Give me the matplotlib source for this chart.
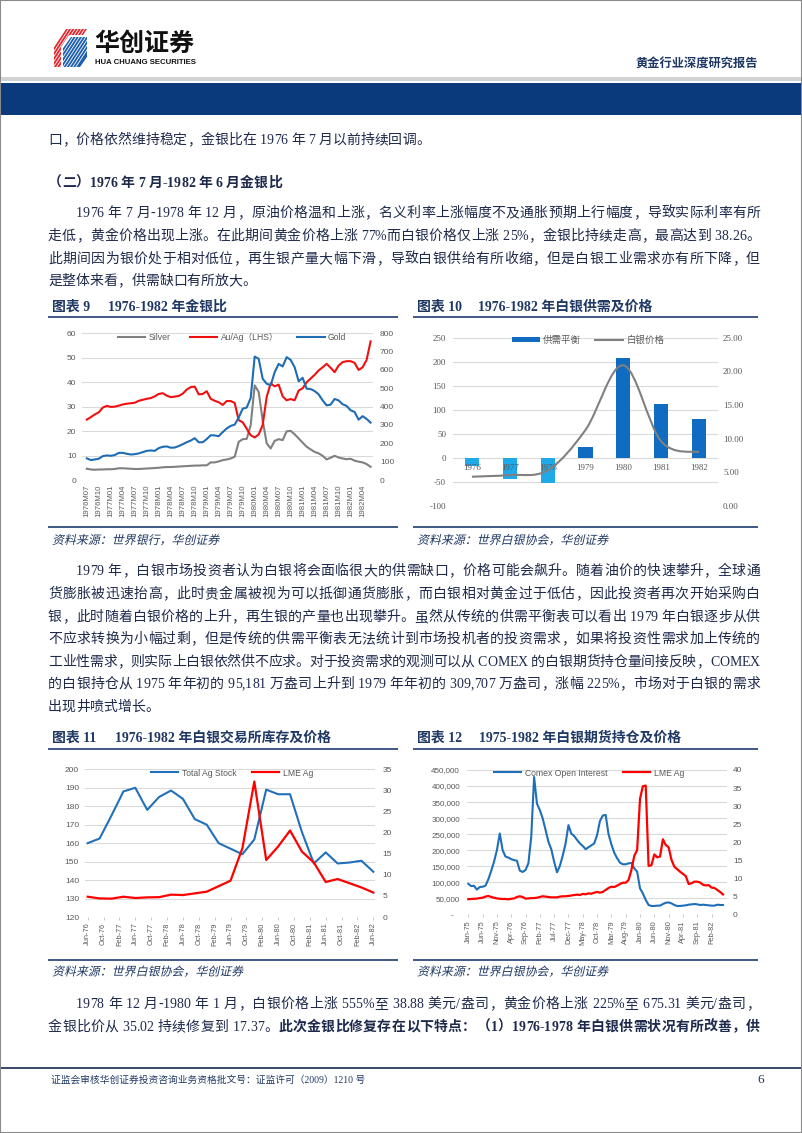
import numpy as np
import matplotlib
matplotlib.use('Agg')
import matplotlib.pyplot as plt
import matplotlib.font_manager as fm
import matplotlib.patheffects as pe
from matplotlib.path import Path
from matplotlib.patches import PathPatch, Rectangle, Polygon, Patch
from matplotlib.lines import Line2D
from matplotlib.textpath import TextPath
from matplotlib.transforms import Affine2D
from matplotlib.ticker import FuncFormatter
from matplotlib.ft2font import FT2Font
try:
    from matplotlib.ft2font import LoadFlags
    NOHINT = LoadFlags.NO_HINTING
except Exception:
    from matplotlib.ft2font import LOAD_NO_HINTING as NOHINT

# ---------------- data ----------------
# Chart 9: monthly 1976M07 - 1982M06
ticks9 = ['1976M07', '1976M10', '1977M01', '1977M04', '1977M07', '1977M10', '1978M01', '1978M04',
          '1978M07', '1978M10', '1979M01', '1979M04', '1979M07', '1979M10', '1980M01', '1980M04',
          '1980M07', '1980M10', '1981M01', '1981M04', '1981M07', '1981M10', '1982M01', '1982M04']
silver9 = [4.6, 4.3, 4.2, 4.3, 4.3, 4.4, 4.4, 4.5, 4.8, 4.8,
           4.7, 4.6, 4.5, 4.5, 4.6, 4.7, 4.8, 4.9, 5.0, 5.2,
           5.3, 5.3, 5.4, 5.5, 5.6, 5.7, 5.8, 5.9, 5.9, 6.0,
           6.0, 7.2, 7.2, 7.6, 8.1, 8.4, 8.8, 9.5, 15.6, 16.7,
           16.8, 22.4, 38.7, 36.0, 24.4, 15.0, 12.9, 16.0, 16.7, 16.3,
           19.9, 20.1, 18.7, 17.0, 15.3, 13.6, 12.5, 11.5, 10.9, 9.9,
           8.4, 9.1, 9.9, 9.2, 8.8, 8.5, 8.7, 7.9, 7.5, 7.2,
           6.5, 5.4]
auag9 = [24.7, 25.7, 26.8, 27.7, 29.6, 30.3, 29.9, 30.0, 30.4, 30.9,
         31.2, 31.4, 31.6, 32.4, 32.8, 33.2, 33.5, 34.2, 35.2, 35.5,
         34.5, 33.9, 34.1, 34.4, 35.3, 37.0, 38.0, 38.2, 35.0, 35.2,
         36.3, 33.2, 32.4, 31.8, 30.7, 32.3, 32.3, 31.5, 24.5, 23.6,
         21.0, 18.3, 17.4, 18.6, 22.5, 34.0, 39.5, 38.3, 39.0, 34.2,
         32.6, 33.1, 32.6, 36.6, 37.5, 40.0, 41.5, 43.0, 44.8, 46.1,
         47.5, 45.9, 44.1, 46.8, 48.2, 48.6, 48.6, 47.9, 45.0, 46.1,
         49.1, 56.7]
gold9 = [118, 109, 112, 116, 130, 134, 132, 136, 148, 148,
         143, 139, 141, 145, 152, 159, 161, 159, 174, 181,
         183, 176, 177, 185, 195, 206, 215, 228, 206, 206,
         223, 244, 243, 239, 261, 281, 295, 302, 340, 389,
         395, 447, 673, 661, 552, 525, 516, 588, 633, 619,
         670, 655, 615, 538, 557, 498, 496, 485, 467, 434,
         407, 411, 442, 434, 413, 404, 380, 371, 329, 348,
         333, 313]

# Chart 10: yearly
years10 = ['1976', '1977', '1978', '1979', '1980', '1981', '1982']
balance10 = [-16, -44, -53, 22, 208, 113, 81]
price10 = [4.35, 4.6, 5.3, 11.3, 20.9, 9.6, 8.0]

# Chart 11: quarterly Jun-76 .. Jun-82
ticks11 = ['Jun-76', 'Oct-76', 'Feb-77', 'Jun-77', 'Oct-77', 'Feb-78', 'Jun-78', 'Oct-78', 'Feb-79',
           'Jun-79', 'Oct-79', 'Feb-80', 'Jun-80', 'Oct-80', 'Feb-81', 'Jun-81', 'Oct-81', 'Feb-82', 'Jun-82']
stock11 = [160, 162.5, 175, 188, 190, 178, 185, 188.5, 184, 173, 170, 160, 157,
           154, 162, 189, 186.5, 186.5, 166, 149, 155, 149, 149.5, 150.5, 144.5]
lme11 = [4.8, 4.4, 4.35, 4.8, 4.5, 4.65, 4.7, 5.3, 5.2, 5.6, 6.0, 7.3, 8.6,
         16.3, 32.1, 13.5, 16.7, 20.5, 15.5, 12.9, 8.3, 9.0, 8.0, 7.0, 5.8]

# Chart 12: monthly Jan-75 .. Jun-82
ticks12 = ['Jan-75', 'Jun-75', 'Nov-75', 'Apr-76', 'Sep-76', 'Feb-77', 'Jul-77', 'Dec-77', 'May-78',
           'Oct-78', 'Mar-79', 'Aug-79', 'Jan-80', 'Jun-80', 'Nov-80', 'Apr-81', 'Sep-81', 'Feb-82']
comex12_k = [95, 88, 89, 77, 85, 86, 89, 109, 135, 164,
             200, 252, 200, 180, 177, 172, 169, 167, 136, 132,
             138, 159, 242, 428, 345, 325, 299, 263, 226, 203,
             164, 131, 151, 183, 221, 278, 252, 244, 232, 221,
             213, 203, 209, 215, 221, 247, 291, 308, 310, 250,
             218, 192, 175, 161, 156, 156, 159, 160, 143, 133,
             81, 65, 45, 29, 26, 26, 27, 27, 32, 36,
             37, 34, 29, 26, 26, 27, 28, 30, 31, 32,
             31, 29, 30, 29, 28, 27, 27, 30, 29, 29]
lme12 = [4.2, 4.25, 4.3, 4.35, 4.5, 4.6, 4.9, 5.1, 4.8, 4.6,
         4.4, 4.3, 4.25, 4.25, 4.15, 4.3, 4.4, 4.8, 5.0, 4.8,
         4.35, 4.4, 4.5, 4.5, 4.6, 4.8, 5.0, 4.9, 4.8, 4.7,
         4.7, 4.7, 4.9, 5.0, 5.0, 5.1, 5.2, 5.35, 5.45, 5.35,
         5.65, 5.55, 5.8, 5.7, 6.0, 6.2, 6.0, 6.2, 6.75, 7.3,
         7.65, 7.55, 7.95, 8.4, 8.75, 8.75, 9.5, 12.3, 16.2, 17.8,
         32.0, 35.5, 35.7, 13.4, 13.6, 16.6, 15.8, 16.0, 20.8, 19.2,
         18.6, 15.1, 13.2, 12.5, 11.8, 11.2, 10.6, 8.4, 8.6, 9.05,
         9.05, 8.8, 8.2, 8.0, 8.1, 7.4, 7.3, 6.75, 6.2, 5.5]

# ---------------- page setup ----------------
W, H = 802, 1133
CJK = 'Noto Sans CJK SC'
SERIF = 'Liberation Serif'
SANS = 'Liberation Sans'
plt.rcParams['font.family'] = [SANS, CJK]
plt.rcParams['axes.unicode_minus'] = False

TXT = '#1e2a4c'
NAVY = '#1F3864'
LBL = '#595959'
GRID = '#D9D9D9'

fig = plt.figure(figsize=(W / 100, H / 100), dpi=100)
fig.patch.set_facecolor('white')


def fx(x):
    return x / W


def fy(y):
    return 1 - y / H


def add_ax(x0, y0, x1, y1):
    return fig.add_axes([fx(x0), fy(y1), (x1 - x0) / W, (y1 - y0) / H])


def add_rect(x0, y0, x1, y1, color, z=1):
    fig.add_artist(Rectangle((fx(x0), fy(y1)), (x1 - x0) / W, (y1 - y0) / H,
                             transform=fig.transFigure, facecolor=color, edgecolor='none', zorder=z))


def add_hline(x0, x1, y, color, lw):
    fig.add_artist(Line2D([fx(x0), fx(x1)], [fy(y), fy(y)], transform=fig.transFigure,
                          color=color, lw=lw, solid_capstyle='butt'))


_fonts = {}


def _ft(is_ascii, bold):
    key = (is_ascii, bold)
    if key not in _fonts:
        fam = SERIF if is_ascii else CJK
        path = fm.findfont(fm.FontProperties(family=fam, weight='bold' if bold else 'normal'))
        _fonts[key] = (FT2Font(path), path)
    return _fonts[key]


CJK_BOLD_REAL = 'bold' in _ft(False, True)[1].lower()


def bold_fx(color):
    if CJK_BOLD_REAL:
        return []
    return [pe.withStroke(linewidth=0.6, foreground=color)]


def adv(ch, bold, size):
    f, _ = _ft(ord(ch) < 128, bold)
    f.set_size(size, 100)
    g = f.load_char(ord(ch), flags=NOHINT)
    return g.linearHoriAdvance / 65536.0


def body_line(segments, x0, yb, x1=None, size=10, color=TXT):
    chars = []
    for s, b in segments:
        for ch in s:
            chars.append((ch, b))
    advs = [adv(c, b, size) for c, b in chars]
    natural = sum(advs)
    elig = set()
    extra = 0.0
    if x1 is not None:
        for i in range(len(chars) - 1):
            a, b = chars[i][0], chars[i + 1][0]
            if ord(a) < 128 and ord(b) < 128 and a != ' ' and b != ' ':
                continue
            elig.add(i)
        if elig:
            extra = (x1 - x0 - natural) / len(elig)
    x = x0
    for i, ((ch, b), a) in enumerate(zip(chars, advs)):
        if ch != ' ':
            asc = ord(ch) < 128
            kw = {}
            if b and not asc:
                kw['path_effects'] = bold_fx(color)
            fig.text(fx(x), fy(yb), ch, fontsize=size, family=SERIF if asc else CJK,
                     fontweight='bold' if b else 'normal', color=color,
                     ha='left', va='baseline', **kw)
        x += a + (extra if i in elig else 0.0)


def italic(s, x, yb, size, color):
    prop = fm.FontProperties(family=CJK)
    tp = TextPath((0, 0), s, size=size, prop=prop)
    tr = Affine2D().skew_deg(13, 0).scale(100 / 72.0).translate(x, H - yb)
    fig.add_artist(PathPatch(tp, transform=tr, facecolor=color, edgecolor='none'))


def chart_title(x, y, prefix, rest, off):
    fig.text(fx(x), fy(y), prefix, fontsize=10, fontweight='bold', family=[SERIF, CJK],
             color=NAVY, va='center', path_effects=bold_fx(NAVY))
    fig.text(fx(x + off), fy(y), rest, fontsize=10, fontweight='bold', family=[SERIF, CJK],
             color=NAVY, va='center', path_effects=bold_fx(NAVY))


# ---------------- header ----------------
fig.add_artist(Rectangle((0, 0), 1, 1, transform=fig.transFigure, fill=False,
                         edgecolor='#8a8a8a', lw=1.5))
add_rect(1, 77, 801, 81, '#D2D2D2')
add_rect(1, 83, 801, 115, '#0A3A7B')

red = Polygon([(fx(a), fy(b)) for a, b in [(54, 47), (66, 29), (87, 29), (83, 35), (69, 35),
                                            (61, 47), (61, 67), (54, 67)]],
              closed=True, transform=fig.transFigure, facecolor='#E3262B', edgecolor='none')
blue = Polygon([(fx(a), fy(b)) for a, b in [(63, 48), (71, 37), (87, 37), (87, 57), (80, 67), (63, 67)]],
               closed=True, transform=fig.transFigure, facecolor='#1E5FAE', edgecolor='none')
fig.add_artist(red)
fig.add_artist(blue)
clip = Rectangle((fx(53), fy(68)), 35 / W, 40 / H, transform=fig.transFigure, facecolor='none')
for k in range(-8, 12):
    xs = 40 + 3.2 * k
    ln = Line2D([fx(xs), fx(xs + 26)], [fy(68), fy(28)], transform=fig.transFigure,
                color='white', lw=0.6)
    ln.set_clip_path(clip)
    fig.add_artist(ln)
fig.text(fx(94), fy(44), '华创证券', fontsize=18, fontweight='bold', family=CJK,
         color='#111111', va='center', path_effects=bold_fx('#111111'))
fig.text(fx(95), fy(62.5), 'HUA CHUANG SECURITIES', fontsize=5.6, fontweight='bold',
         family=SANS, color='#111111', va='center')
fig.text(fx(758), fy(64), '黄金行业深度研究报告', fontsize=8.8, fontweight='bold', family=CJK,
         color=NAVY, ha='right', va='center', path_effects=bold_fx(NAVY))

# ---------------- body text ----------------
N = False
B = True
body_line([('口，价格依然维持稳定，金银比在 1976 年 7 月以前持续回调。', N)], 48, 144)
body_line([('（二）1976 年 7 月-1982 年 6 月金银比', B)], 48, 187)
p1 = ['1976 年 7 月-1978 年 12 月，原油价格温和上涨，名义利率上涨幅度不及通胀预期上行幅度，导致实际利率有所',
      '走低，黄金价格出现上涨。在此期间黄金价格上涨 77%而白银价格仅上涨 25%，金银比持续走高，最高达到 38.26。',
      '此期间因为银价处于相对低位，再生银产量大幅下滑，导致白银供给有所收缩，但是白银工业需求亦有所下降，但',
      '是整体来看，供需缺口有所放大。']
p1_y = [217, 240, 263, 285]
for i, (s, yb) in enumerate(zip(p1, p1_y)):
    body_line([(s, N)], 76 if i == 0 else 48, yb, None if i == len(p1) - 1 else 760)

p2 = ['1979 年，白银市场投资者认为白银将会面临很大的供需缺口，价格可能会飙升。随着油价的快速攀升，全球通',
      '货膨胀被迅速抬高，此时贵金属被视为可以抵御通货膨胀，而白银相对黄金过于低估，因此投资者再次开始采购白',
      '银，此时随着白银价格的上升，再生银的产量也出现攀升。虽然从传统的供需平衡表可以看出 1979 年白银逐步从供',
      '不应求转换为小幅过剩，但是传统的供需平衡表无法统计到市场投机者的投资需求，如果将投资性需求加上传统的',
      '工业性需求，则实际上白银依然供不应求。对于投资需求的观测可以从 COMEX 的白银期货持仓量间接反映，COMEX',
      '的白银持仓从 1975 年年初的 95,181 万盎司上升到 1979 年年初的 309,707 万盎司，涨幅 225%，市场对于白银的需求',
      '出现井喷式增长。']
p2_y = [575, 598, 621, 643, 666, 688, 711]
for i, (s, yb) in enumerate(zip(p2, p2_y)):
    body_line([(s, N)], 76 if i == 0 else 48, yb, None if i == len(p2) - 1 else 760)

body_line([('1978 年 12 月-1980 年 1 月，白银价格上涨 555%至 38.88 美元/盎司，黄金价格上涨 225%至 675.31 美元/盎司，', N)],
          76, 1008, 760)
body_line([('金银比价从 35.02 持续修复到 17.37。', N),
           ('此次金银比修复存在以下特点：（1）1976-1978 年白银供需状况有所改善，供', B)], 48, 1031, 760)

# ---------------- titles / sources ----------------
chart_title(52, 307, '图表 9', '1976-1982 年金银比', 56)
chart_title(417, 307, '图表 10', '1976-1982 年白银供需及价格', 61)
chart_title(52, 738, '图表 11', '1976-1982 年白银交易所库存及价格', 63)
chart_title(417, 738, '图表 12', '1975-1982 年白银期货持仓及价格', 62)
LINEC = '#2F4C7C'
for (a, b, y) in [(48, 398, 317), (413, 758, 317), (48, 398, 749), (413, 758, 749),
                  (48, 398, 527), (413, 758, 527), (48, 398, 960), (413, 758, 960)]:
    add_hline(a, b, y, LINEC, 1.3)
italic('资料来源：世界银行，华创证券', 52, 544, 8.6, NAVY)
italic('资料来源：世界白银协会，华创证券', 417, 544, 8.6, NAVY)
italic('资料来源：世界白银协会，华创证券', 52, 975.5, 8.6, NAVY)
italic('资料来源：世界白银协会，华创证券', 417, 975.5, 8.6, NAVY)

# ---------------- footer ----------------
add_rect(1, 1067, 801, 1069, '#3B4E6B')
fig.text(fx(51), fy(1080), '证监会审核华创证券投资咨询业务资格批文号：证监许可（2009）1210 号',
         fontsize=7, family=[SERIF, CJK], color=NAVY, va='center')
fig.text(fx(757), fy(1080), '6', fontsize=9.5, family=SERIF, color=NAVY, va='center')


def clean(ax):
    for s in ax.spines.values():
        s.set_visible(False)


legprop = fm.FontProperties(family=[SANS, CJK], size=6.2)

# ---------------- chart 9 ----------------
ax9 = add_ax(82, 333.3, 373, 480)
ax9r = ax9.twinx()
x9 = np.arange(len(gold9))
ax9.plot(x9, silver9, color='#808080', lw=1.5, zorder=3)
ax9.plot(x9, auag9, color='#F01010', lw=1.5, zorder=4)
ax9r.plot(x9, gold9, color='#1E6DB4', lw=1.5)
ax9.set_xlim(-1.2, 71.6)
ax9.set_ylim(0, 60)
ax9r.set_ylim(0, 800)
ax9.set_yticks(np.arange(0, 61, 10))
ax9r.set_yticks(np.arange(0, 801, 100))
ax9.set_xticks(np.arange(0, len(gold9), 3))
ax9.set_xticklabels(ticks9, rotation=90, fontsize=5.6, color=LBL)
ax9.grid(axis='y', color=GRID, lw=0.75)
ax9.set_axisbelow(True)
for a in (ax9, ax9r):
    clean(a)
ax9.tick_params(axis='y', length=0, labelsize=6, labelcolor=LBL, pad=4)
ax9.tick_params(axis='x', length=0, pad=3.5)
ax9r.tick_params(axis='y', length=0, labelsize=6, labelcolor=LBL, pad=5)
h9 = [Line2D([], [], color='#808080', lw=1.5), Line2D([], [], color='#F01010', lw=1.5),
      Line2D([], [], color='#1E6DB4', lw=1.5)]
ax9r.legend(h9, ['Silver', 'Au/Ag（LHS）', 'Gold'], loc='center', bbox_to_anchor=(fx(232), fy(337)),
            bbox_transform=fig.transFigure, ncol=3, frameon=False, prop=legprop, labelcolor=LBL,
            handlelength=3.2, handletextpad=0.4, columnspacing=2.2)

# ---------------- chart 10 ----------------
ax10 = add_ax(453, 337.7, 718, 506)
ax10r = ax10.twinx()
x10 = np.arange(len(years10))
cols = ['#1FA9E9' if v < 0 else '#0F6CC0' for v in balance10]
ax10.bar(x10, balance10, width=0.37, color=cols, zorder=2)
ax10.set_xlim(-0.5, 6.5)
ax10.set_ylim(-100, 250)
ax10r.set_ylim(0, 25)
yt10 = np.arange(-100, 251, 50)
ax10.set_yticks(yt10, labels=[str(v) for v in yt10], fontfamily=SERIF)
yt10r = np.arange(0, 26, 5)
ax10r.set_yticks(yt10r, labels=['%.2f' % v for v in yt10r], fontfamily=SERIF)
ax10.set_xticks([])
ax10.grid(axis='y', color=GRID, lw=0.75)
ax10.set_axisbelow(True)
for a in (ax10, ax10r):
    clean(a)
ax10.tick_params(axis='y', length=0, labelsize=6.5, labelcolor=LBL, pad=5)
ax10r.tick_params(axis='y', length=0, labelsize=6.5, labelcolor=LBL, pad=3.6)
for xi, yr in zip(x10, years10):
    ax10.text(xi, -21.6, yr, ha='center', va='center', fontsize=6.5, color=LBL, family=SERIF, zorder=5)


def smooth_path(xs, ys):
    pts = np.column_stack([xs, ys]).astype(float)
    n = len(pts)
    verts = [pts[0]]
    codes = [Path.MOVETO]
    for i in range(n - 1):
        p0 = pts[i - 1] if i > 0 else pts[i]
        p1 = pts[i]
        p2 = pts[i + 1]
        p3 = pts[i + 2] if i + 2 < n else pts[i + 1]
        verts += [p1 + (p2 - p0) / 6.0, p2 - (p3 - p1) / 6.0, p2]
        codes += [Path.CURVE4] * 3
    return Path(verts, codes)


ax10r.add_patch(PathPatch(smooth_path(x10, price10), fill=False, edgecolor='#808080', lw=1.5))
h10 = [Patch(facecolor='#0F6CC0', edgecolor='none'), Line2D([], [], color='#808080', lw=1.5)]
ax10r.legend(h10, ['供需平衡', '白银价格'], loc='center', bbox_to_anchor=(fx(588), fy(340)),
             bbox_transform=fig.transFigure, ncol=2, frameon=False,
             prop=fm.FontProperties(family=[CJK], size=6.8), labelcolor=LBL,
             handlelength=3.0, handleheight=0.45, handletextpad=0.3, columnspacing=1.5)

# ---------------- chart 11 ----------------
ax11 = add_ax(85, 769.3, 375, 917)
ax11r = ax11.twinx()
q11 = np.arange(len(stock11))
ax11.plot(q11, stock11, color='#2270B8', lw=1.5)
ax11r.plot(q11, lme11, color='#FF0000', lw=1.6)
ax11.set_xlim(-0.227, 24.14)
ax11.set_ylim(120, 200)
ax11r.set_ylim(0, 35)
ax11.set_yticks(np.arange(120, 201, 10))
ax11r.set_yticks(np.arange(0, 36, 5))
ax11.set_xticks(np.arange(len(ticks11)) * 4 / 3.0)
ax11.set_xticklabels(ticks11, rotation=90, fontsize=5.3, color=LBL)
ax11.grid(axis='y', color=GRID, lw=0.75)
ax11.set_axisbelow(True)
for a in (ax11, ax11r):
    clean(a)
ax11.tick_params(axis='y', length=0, labelsize=6, labelcolor=LBL, pad=4.3)
ax11.tick_params(axis='x', length=2.5, width=0.6, color='#BFBFBF', pad=1.5)
ax11r.tick_params(axis='y', length=0, labelsize=6, labelcolor=LBL, pad=5.5)
h11 = [Line2D([], [], color='#2270B8', lw=1.5), Line2D([], [], color='#FF0000', lw=1.6)]
ax11r.legend(h11, ['Total Ag Stock', 'LME Ag'], loc='center', bbox_to_anchor=(fx(232), fy(773)),
             bbox_transform=fig.transFigure, ncol=2, frameon=False, prop=legprop, labelcolor=LBL,
             handlelength=3.2, handletextpad=0.4, columnspacing=1.8)

# ---------------- chart 12 ----------------
ax12 = add_ax(467, 770, 727, 914.3)
ax12r = ax12.twinx()
m12 = np.arange(len(comex12_k))
ax12.plot(m12, np.array(comex12_k) * 1000, color='#1F6FB8', lw=1.5)
ax12r.plot(m12, lme12, color='#FF0000', lw=1.6)
ax12.set_xlim(-0.45, 90.4)
ax12.set_ylim(0, 450000)
ax12r.set_ylim(0, 40)
ax12.set_yticks(np.arange(0, 450001, 50000))
ax12.yaxis.set_major_formatter(FuncFormatter(lambda v, p: '-   ' if v == 0 else '{:,}'.format(int(v))))
ax12r.set_yticks(np.arange(0, 41, 5))
ax12.set_xticks(np.arange(len(ticks12)) * 5)
ax12.set_xticklabels(ticks12, rotation=90, fontsize=5.3, color=LBL)
ax12.grid(axis='y', color=GRID, lw=0.75)
ax12.set_axisbelow(True)
for a in (ax12, ax12r):
    clean(a)
ax12.tick_params(axis='y', length=0, labelsize=5.8, labelcolor=LBL, pad=5)
ax12.tick_params(axis='x', length=2.5, width=0.6, color='#BFBFBF', pad=2)
ax12r.tick_params(axis='y', length=0, labelsize=6, labelcolor=LBL, pad=4.3)
h12 = [Line2D([], [], color='#1F6FB8', lw=1.5), Line2D([], [], color='#FF0000', lw=1.6)]
ax12r.legend(h12, ['Comex Open Interest', 'LME Ag'], loc='center', bbox_to_anchor=(fx(589), fy(773)),
             bbox_transform=fig.transFigure, ncol=2, frameon=False, prop=legprop, labelcolor=LBL,
             handlelength=3.2, handletextpad=0.4, columnspacing=1.8)

fig.savefig('out.png', dpi=100)
